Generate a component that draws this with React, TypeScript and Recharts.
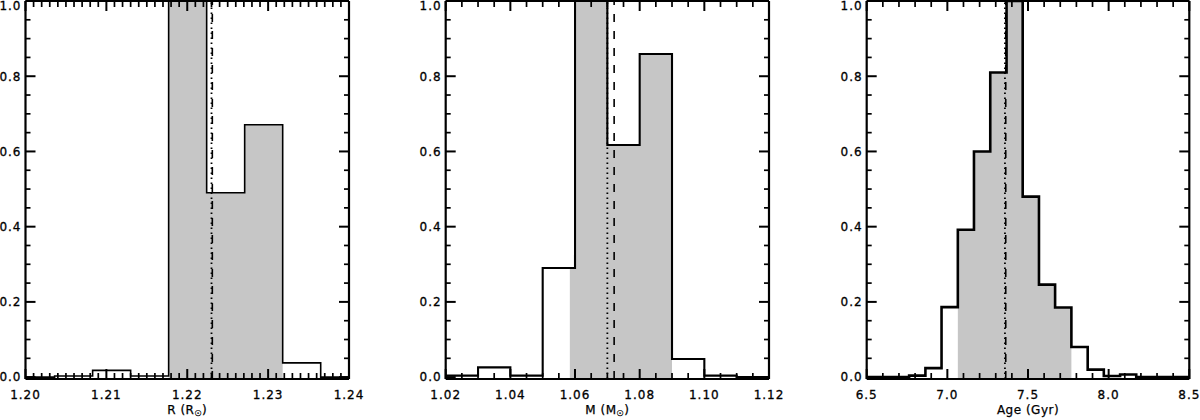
import React from 'react';
import { ComposedChart, Line, Area, XAxis, YAxis, ReferenceLine } from 'recharts';

// ---------- data ----------
// Panel 1: radius R (R_sun)
const rEdges = [1.2036, 1.2083, 1.213, 1.2177, 1.2224, 1.2271, 1.2318, 1.2365];
const rHeights = [0.003, 0.018, 0.003, 1.0, 0.49, 0.671, 0.038];
const rShadeEdges = [1.2177, 1.2224, 1.2271, 1.2318];
const rShadeHeights = [1.0, 0.49, 0.671];
const rDotted = 1.223;
const rDashed = 1.2231;
const rMajorTicks = [1.2, 1.21, 1.22, 1.23, 1.24];

// Panel 2: mass M (M_sun)
const mEdges = [1.02, 1.03, 1.04, 1.05, 1.06, 1.07, 1.08, 1.09, 1.1, 1.11];
const mHeights = [0.004, 0.026, 0.004, 0.29, 1.0, 0.617, 0.859, 0.048, 0.004];
const mShadeEdges = [1.0584, 1.06, 1.07, 1.08, 1.09];
const mShadeHeights = [0.29, 1.0, 0.617, 0.859];
const mDotted = 1.07;
const mDashed = 1.0721;
const mMajorTicks = [1.02, 1.04, 1.06, 1.08, 1.1, 1.12];

// Panel 3: age (Gyr)
const aEdges = [6.763, 6.864, 6.964, 7.065, 7.165, 7.266, 7.367, 7.467, 7.568, 7.668, 7.769, 7.87, 7.97, 8.071, 8.171];
const aHeights = [0.004, 0.024, 0.186, 0.392, 0.6, 0.81, 1.0, 0.48, 0.246, 0.185, 0.08, 0.02, 0.003, 0.007];
const aShadeEdges = [7.065, 7.165, 7.266, 7.367, 7.467, 7.568, 7.668, 7.769];
const aShadeHeights = [0.392, 0.6, 0.81, 1.0, 0.48, 0.246, 0.185];
const aDotted = 7.357;
const aDashed = 7.362;
const aMajorTicks = [6.5, 7.0, 7.5, 8.0, 8.5];

const yMajorTicks = [0, 0.2, 0.4, 0.6, 0.8, 1.0];

// ---------- helpers ----------
const FONT = "'DejaVu Sans', Verdana, sans-serif";
const AX = 0.01; // near-zero axis thickness (must be > 0 for axes to render)
const CHART_W = 400;
const CHART_H = 420;
const M_TOP = 1;
const M_BOTTOM = 41;
const MAJOR_LEN = 10;
const MINOR_LEN_X = 6;
const MINOR_LEN_Y = 5;
const MAJOR_W = 2;
const MINOR_W = 1.7;
const Y_DOMAIN: [number, number] = [-0.005, 1.0];

function tickRange(min: number, max: number, step: number): number[] {
  const out: number[] = [];
  const n = Math.round((max - min) / step);
  for (let i = 0; i <= n; i++) out.push(Math.round((min + i * step) * 1e6) / 1e6);
  return out;
}

const isMajor = (v: number, majors: number[]) => majors.some((m) => Math.abs(m - v) < 1e-9);

function outlineData(edges: number[], heights: number[], xmin: number, xmax: number) {
  const pts: { x: number; y: number }[] = [{ x: xmin, y: 0 }];
  heights.forEach((h, i) => pts.push({ x: edges[i], y: h }));
  pts.push({ x: edges[edges.length - 1], y: 0 });
  pts.push({ x: xmax, y: 0 });
  return pts;
}

function shadeData(edges: number[], heights: number[]) {
  const pts: { x: number; y: number }[] = [];
  heights.forEach((h, i) => pts.push({ x: edges[i], y: h }));
  pts.push({ x: edges[edges.length - 1], y: 0 });
  return pts;
}

const labelProps = {
  fontFamily: FONT,
  fontSize: 12,
  fill: '#000',
  stroke: '#000',
  strokeWidth: 0.3,
  style: { letterSpacing: '1px' },
};

const XLabel = (props: any) => {
  const { payload, digits } = props;
  const x = Number(props.x);
  const y = Number(props.y);
  return (
    <text x={x} y={y + 11} dy="0.71em" textAnchor="middle" {...labelProps}>
      {Number(payload.value).toFixed(digits)}
    </text>
  );
};

const YLabel = (props: any) => {
  const { payload } = props;
  const x = Number(props.x);
  const y = Number(props.y);
  return (
    <text x={x - 4} y={Math.max(y, 6)} dy="0.36em" textAnchor="end" {...labelProps}>
      {Number(payload.value).toFixed(1)}
    </text>
  );
};

const makeTitle = (main: string, sub: string, tail: string) => (props: any) => {
  const vb = props.viewBox || {};
  const cx = vb.x + vb.width / 2;
  return (
    <text x={cx} y={414} textAnchor="middle" fontFamily={FONT} fontSize={12} fill="#000"
      stroke="#000" strokeWidth={0.25} style={{ letterSpacing: '0.5px' }}>
      <tspan>{main}</tspan>
      {sub ? <tspan fontSize={8} dy={2}>{sub}</tspan> : null}
      {sub ? <tspan dy={-2}>{tail}</tspan> : null}
    </text>
  );
};

type PanelProps = {
  offset: number;
  marginLeft: number;
  marginRight: number;
  xDomain: [number, number];
  majorX: number[];
  minorStep: number;
  digits: number;
  edges: number[];
  heights: number[];
  shadeEdges: number[];
  shadeHeights: number[];
  dotted: number;
  dashed: number;
  lineWidth: number;
  title: [string, string, string];
};

function Panel(p: PanelProps) {
  const allX = tickRange(p.xDomain[0], p.xDomain[1], p.minorStep);
  const allY = tickRange(0, 1, 0.05);
  const outline = outlineData(p.edges, p.heights, p.xDomain[0], p.xDomain[1]);
  const shade = shadeData(p.shadeEdges, p.shadeHeights);
  const frame = { stroke: '#000', strokeWidth: 2.2 };

  // data units per pixel, so inward tick marks have fixed pixel lengths
  const plotW = CHART_W - p.marginLeft - p.marginRight;
  const plotH = CHART_H - M_TOP - M_BOTTOM;
  const xpp = (p.xDomain[1] - p.xDomain[0]) / plotW;
  const ypp = (Y_DOMAIN[1] - Y_DOMAIN[0]) / plotH;
  const [x0, x1] = p.xDomain;
  const [y0, y1] = Y_DOMAIN;

  const tickSegs: { seg: { x: number; y: number }[]; w: number }[] = [];
  allX.forEach((v) => {
    const maj = isMajor(v, p.majorX);
    const len = (maj ? MAJOR_LEN : MINOR_LEN_X) * ypp;
    const w = maj ? MAJOR_W : MINOR_W;
    tickSegs.push({ seg: [{ x: v, y: y0 }, { x: v, y: y0 + len }], w });
    tickSegs.push({ seg: [{ x: v, y: y1 }, { x: v, y: y1 - len }], w });
  });
  allY.forEach((v) => {
    const maj = isMajor(v, yMajorTicks);
    const len = (maj ? MAJOR_LEN : MINOR_LEN_Y) * xpp;
    const w = maj ? MAJOR_W : MINOR_W;
    tickSegs.push({ seg: [{ x: x0, y: v }, { x: x0 + len, y: v }], w });
    tickSegs.push({ seg: [{ x: x1, y: v }, { x: x1 - len, y: v }], w });
  });

  const xCommon = {
    type: 'number' as const, domain: p.xDomain, allowDataOverflow: true, interval: 0 as const,
    height: AX, tickLine: false, tickSize: 0, tickMargin: 0, axisLine: frame,
  };
  const yCommon = {
    type: 'number' as const, domain: Y_DOMAIN, allowDataOverflow: true, interval: 0 as const,
    width: AX, tickLine: false, tickSize: 0, tickMargin: 0, axisLine: frame,
  };
  return (
    <div style={{ position: 'absolute', left: p.offset, top: 0, width: CHART_W, height: CHART_H }}>
      <ComposedChart width={CHART_W} height={CHART_H}
        margin={{ top: M_TOP - AX, bottom: M_BOTTOM - AX, left: p.marginLeft - AX, right: p.marginRight - AX }}>
        <XAxis xAxisId="b" dataKey="x" orientation="bottom" {...xCommon} ticks={p.majorX}
          tick={(tp: any) => <XLabel {...tp} digits={p.digits} />}
          label={{ content: makeTitle(p.title[0], p.title[1], p.title[2]) }} />
        <XAxis xAxisId="t" dataKey="x" orientation="top" {...xCommon} ticks={p.majorX} tick={false} />
        <YAxis yAxisId="l" dataKey="y" orientation="left" {...yCommon} ticks={yMajorTicks}
          tick={(tp: any) => <YLabel {...tp} />} />
        <YAxis yAxisId="r" dataKey="y" orientation="right" {...yCommon} ticks={yMajorTicks} tick={false} />
        <Area xAxisId="b" yAxisId="l" data={shade} dataKey="y" type="stepAfter" baseValue="dataMin"
          fill="#c6c6c6" fillOpacity={1} stroke="none" isAnimationActive={false} dot={false} activeDot={false} />
        <ReferenceLine xAxisId="b" yAxisId="l" x={p.dotted} stroke="#000" strokeWidth={1.8}
          strokeDasharray="1.5 3.5" />
        <ReferenceLine xAxisId="b" yAxisId="l" x={p.dashed} stroke="#000" strokeWidth={1.6}
          strokeDasharray="8 9" />
        <Line xAxisId="b" yAxisId="l" data={outline} dataKey="y" type="stepAfter" stroke="#000"
          strokeWidth={p.lineWidth} dot={false} activeDot={false} isAnimationActive={false}
          strokeLinejoin="miter" />
        {tickSegs.map((t, i) => (
          <ReferenceLine key={`tk${i}`} xAxisId="b" yAxisId="l" segment={t.seg} stroke="#000"
            strokeWidth={t.w} ifOverflow="visible" />
        ))}
      </ComposedChart>
    </div>
  );
}

export default function App() {
  return (
    <div style={{ position: 'absolute', left: 0, top: 0, width: 1200, height: 420, background: '#fff' }}>
      <Panel offset={0} marginLeft={25.5} marginRight={51} xDomain={[1.2, 1.24]} majorX={rMajorTicks}
        minorStep={0.001} digits={2} edges={rEdges} heights={rHeights} shadeEdges={rShadeEdges}
        shadeHeights={rShadeHeights} dotted={rDotted} dashed={rDashed} lineWidth={1.6}
        title={['R (R', '\u2609', ')']} />
      <Panel offset={400} marginLeft={45.7} marginRight={31} xDomain={[1.02, 1.12]} majorX={mMajorTicks}
        minorStep={0.005} digits={2} edges={mEdges} heights={mHeights} shadeEdges={mShadeEdges}
        shadeHeights={mShadeHeights} dotted={mDotted} dashed={mDashed} lineWidth={2.1}
        title={['M (M', '\u2609', ')']} />
      <Panel offset={800} marginLeft={66.7} marginRight={10.7} xDomain={[6.5, 8.5]} majorX={aMajorTicks}
        minorStep={0.1} digits={1} edges={aEdges} heights={aHeights} shadeEdges={aShadeEdges}
        shadeHeights={aShadeHeights} dotted={aDotted} dashed={aDashed} lineWidth={2.6}
        title={['Age (Gyr)', '', '']} />
    </div>
  );
}
